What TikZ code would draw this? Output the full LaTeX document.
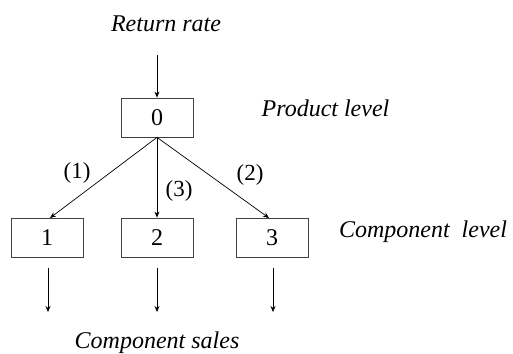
\documentclass[tikz,border=0pt]{standalone}
\usepackage{fontspec}
\setmainfont{Liberation Serif}
\usetikzlibrary{arrows.meta}
\tikzset{
    level/.style = {draw = black!75, line width = 0.8pt, minimum width = 72pt, minimum height = 39pt, inner sep = 0pt, font = \fontsize{24}{28}\selectfont},
    tag/.style = {font = \fontsize{24}{28}\selectfont\itshape},
    branch/.style = {font = \fontsize{23}{27}\selectfont},
    flow/.style = {-{Stealth[length = 6pt, width = 5pt]}, line width = 0.7pt}
}
\begin{document}
\begin{tikzpicture}[x = 1pt, y = 1pt]
            \useasboundingbox (0,0) rectangle (513,353);
            \node[tag] (ret) at (166,329) {Return rate};
            \node[tag] (plev) at (325.5,245) {Product level};
            \node[tag] (clev) at (423,121) {Component\ \ level};
            \node[tag] (sales) at (157,10) {Component sales};
            \node[level] (p0) at (157,235.5) {0};
            \node[level] (c1) at (47,115.5) {1};
            \node[level] (c2) at (157,115.5) {2};
            \node[level] (c3) at (272,115.5) {3};
            \coordinate (rin) at (157,298);
            \draw[flow] (rin) -- (p0.north);
            \draw[flow] (p0.south) -- (50,135);
            \draw[flow] (p0.south) -- (c2.north);
            \draw[flow] (p0.south) -- (269,135);
            \node[branch] (l1) at (77,180) {(1)};
            \node[branch] (l2) at (250,178) {(2)};
            \node[branch] (l3) at (179,162) {(3)};
            \foreach \i/\x in {1/48,2/157,3/273} {
                \coordinate (s\i a) at (\x,85);
                \coordinate (s\i b) at (\x,41);
                \draw[flow] (s\i a) -- (s\i b);
            }
        \end{tikzpicture}
\end{document}
